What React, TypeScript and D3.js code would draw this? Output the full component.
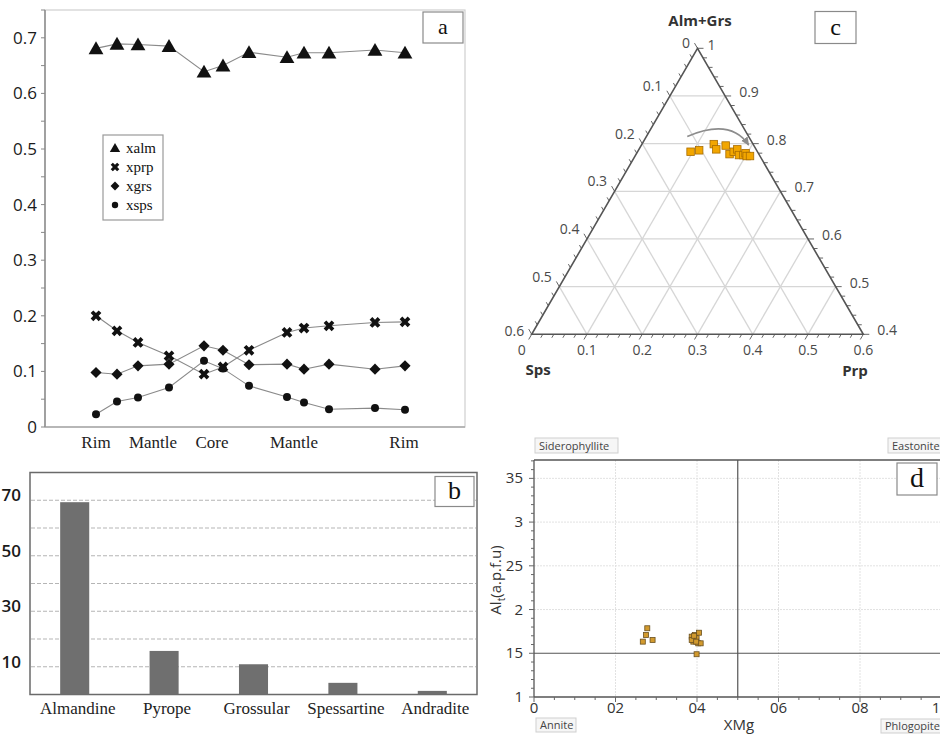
import React from 'react';
import * as d3 from 'd3';

// ---------- (a) garnet zoning profile ----------
const profilePos = [0, 21, 42, 73, 108, 127, 153, 191, 208, 233, 279, 309];
const xalm = [0.681, 0.689, 0.688, 0.685, 0.639, 0.65, 0.674, 0.665, 0.673, 0.673, 0.678, 0.673];
const xprp = [0.2, 0.173, 0.152, 0.128, 0.095, 0.108, 0.138, 0.17, 0.178, 0.182, 0.188, 0.189];
const xgrs = [0.098, 0.095, 0.11, 0.113, 0.146, 0.138, 0.112, 0.113, 0.104, 0.113, 0.104, 0.11];
const xsps = [0.023, 0.046, 0.053, 0.071, 0.119, 0.105, 0.074, 0.054, 0.044, 0.032, 0.034, 0.031];
const zoneLabels = ['Rim', 'Mantle', 'Core', 'Mantle', 'Rim'];
const zonePos = [0, 57, 116, 198, 308];
const profileTicks = [0, 0.1, 0.2, 0.3, 0.4, 0.5, 0.6, 0.7];
const profileTickLabels = ['0', '0.1', '0.2', '0.3', '0.4', '0.5', '0.6', '0.7'];
const seriesNames = ['xalm', 'xprp', 'xgrs', 'xsps'];

// ---------- (b) end-member proportions ----------
const minerals = ['Almandine', 'Pyrope', 'Grossular', 'Spessartine', 'Andradite'];
const mineralPct = [69.3, 15.7, 10.9, 4.2, 1.3];
const pctGrid = [10, 20, 30, 40, 50, 60, 70];
const pctLabels = [10, 30, 50, 70];

// ---------- (c) ternary Alm+Grs / Sps / Prp ----------
const garnetPrp = [0.096, 0.11, 0.13, 0.14, 0.153, 0.169, 0.174, 0.178, 0.187, 0.195, 0.197, 0.202, 0.208];
const garnetSps = [0.121, 0.104, 0.071, 0.072, 0.051, 0.053, 0.043, 0.034, 0.037, 0.029, 0.023, 0.024, 0.018];
const trendPrp = [0.074, 0.133, 0.194];
const trendSps = [0.111, 0.013, 0.009];
const ternTicks = [0, 0.1, 0.2, 0.3, 0.4, 0.5, 0.6];

// ---------- (d) biotite classification ----------
const biotiteXMg = [0.278, 0.275, 0.267, 0.291, 0.387, 0.395, 0.399, 0.391, 0.403, 0.409, 0.387, 0.398, 0.405, 0.393, 0.399];
const biotiteAl = [1.786, 1.709, 1.633, 1.652, 1.69, 1.709, 1.672, 1.633, 1.614, 1.614, 1.652, 1.633, 1.735, 1.7, 1.489];
const xmgTicks = [0, 0.2, 0.4, 0.6, 0.8, 1];
const xmgTickLabels = ['0', '02', '04', '06', '08', '1'];
const alTicks = [1, 1.5, 2, 2.5, 3, 3.5];
const alTickLabels = ['1', '15', '2', '25', '3', '35'];
const cornerNames = ['Siderophyllite', 'Eastonite', 'Annite', 'Phlogopite'];

const SANS = "'Open Sans', 'DejaVu Sans', sans-serif";
const SERIF = "'Liberation Serif', 'DejaVu Serif', serif";

function PanelTag({ x, y, w, h, text, size }: { x: number; y: number; w: number; h: number; text: string; size: number }) {
  return (
    <g>
      <rect x={x} y={y} width={w} height={h} fill="#fff" stroke="#8a8a8a" strokeWidth={1.2} />
      <text x={x + w / 2} y={y + h / 2 + size * 0.3} textAnchor="middle" fontFamily={SERIF} fontSize={size} fill="#111">
        {text}
      </text>
    </g>
  );
}

function ProfilePanel() {
  const x = d3.scaleLinear().domain([-51, 369]).range([45, 465]);
  const y = d3.scaleLinear().domain([0, 0.75]).range([427, 10]);
  const series = [xalm, xprp, xgrs, xsps];
  const triangle = d3.symbol().type(d3.symbolTriangle).size(95)()!;
  const cross = d3.symbol().type(d3.symbolCross).size(72)()!;
  const diamond = d3.symbol().type(d3.symbolSquare).size(62)()!;
  const circle = d3.symbol().type(d3.symbolCircle).size(50)()!;
  const marks = [
    { d: triangle, rot: 0, dy: 1.5 },
    { d: cross, rot: 45, dy: 0 },
    { d: diamond, rot: 45, dy: 0 },
    { d: circle, rot: 0, dy: 0 },
  ];
  const line = d3
    .line<number>()
    .x((_, i) => x(profilePos[i]))
    .y((v) => y(v));
  const minor = d3.range(0, 0.751, 0.05);
  return (
    <g>
      <rect x={45} y={10} width={420} height={417} fill="#fff" stroke="#cfcfcf" strokeWidth={1.2} />
      <line x1={45} x2={465} y1={427} y2={427} stroke="#a8a8a8" strokeWidth={1.5} />
      <line x1={45} x2={45} y1={10} y2={427} stroke="#9a9a9a" strokeWidth={1.8} />
      {minor.map((t) => (
        <line key={t} x1={41} x2={45} y1={y(t)} y2={y(t)} stroke="#888" strokeWidth={1} />
      ))}
      {profileTicks.map((t, i) => (
        <text key={t} x={37} y={y(t) + 6} textAnchor="end" fontFamily={SANS} fontSize={17} fill="#1a1a1a">
          {profileTickLabels[i]}
        </text>
      ))}
      {series.map((s, k) => (
        <path key={k} d={line(s)!} fill="none" stroke="#8a8a8a" strokeWidth={1.1} />
      ))}
      {series.map((s, k) =>
        s.map((v, i) => (
          <path
            key={`${k}-${i}`}
            d={marks[k].d}
            transform={`translate(${x(profilePos[i])},${y(v) + marks[k].dy}) rotate(${marks[k].rot})`}
            fill="#111"
          />
        ))
      )}
      {zoneLabels.map((z, i) => (
        <text key={i} x={x(zonePos[i])} y={448} textAnchor="middle" fontFamily={SERIF} fontSize={17} fill="#222">
          {z}
        </text>
      ))}
      <rect x={103} y={135} width={60} height={85} fill="#fff" stroke="#9a9a9a" strokeWidth={1.2} />
      {seriesNames.map((n, k) => {
        const ly = 148 + k * 19;
        const sc = k === 0 ? 0.7 : 0.8;
        return (
          <g key={n}>
            <path d={marks[k].d} transform={`translate(115,${ly + (k === 0 ? 1 : 0)}) rotate(${marks[k].rot}) scale(${sc})`} fill="#111" />
            <text x={126} y={ly + 5} fontFamily={SERIF} fontSize={15} fill="#111">
              {n}
            </text>
          </g>
        );
      })}
      <PanelTag x={423} y={12} w={40} h={31} text="a" size={22} />
    </g>
  );
}

function BarPanel() {
  const x = d3.scaleBand<string>().domain(minerals).range([30, 477]).paddingInner(0.675).paddingOuter(0.3375);
  const y = d3.scaleLinear().domain([0, 80]).range([694.5, 472.5]);
  return (
    <g>
      <rect x={30} y={472.5} width={447} height={222} fill="#fff" stroke="#6a6a6a" strokeWidth={1.5} />
      {pctGrid.map((g) => (
        <line key={g} x1={31} x2={476} y1={y(g)} y2={y(g)} stroke="#b5b5b5" strokeWidth={1.2} strokeDasharray="4,2" />
      ))}
      {minerals.map((m, i) => (
        <rect key={m} x={x(m)!} y={y(mineralPct[i])} width={x.bandwidth()} height={y(0) - y(mineralPct[i])} fill="#6f6f6f" />
      ))}
      {pctLabels.map((p) => (
        <text key={p} x={21} y={y(p) + 1} textAnchor="end" fontFamily={SANS} fontSize={17} fontWeight={600} fill="#1a1a1a">
          {p}
        </text>
      ))}
      {minerals.map((m) => (
        <text key={m} x={x(m)! + x.bandwidth() / 2 + 3} y={714} textAnchor="middle" fontFamily={SERIF} fontSize={17} fill="#222">
          {m}
        </text>
      ))}
      <PanelTag x={435} y={476.5} w={39} h={30} text="b" size={26} />
    </g>
  );
}

function TernaryPanel() {
  // Cartesian frame of the ternary: horizontal from Sps-apex (0) to Prp-apex (1), vertical by Alm+Grs.
  const tx = d3.scaleLinear().domain([0, 1]).range([531.7, 863.3]);
  const ty = d3.scaleLinear().domain([0.4, 1]).range([334.3, 48.3]);
  const proj = (prp: number, sps: number): [number, number] => {
    const alm = 1 - prp - sps;
    const a = (alm - 0.4) / 0.6;
    return [tx(prp / 0.6 + a / 2), ty(alm)];
  };
  const top = proj(0, 0);
  const left = proj(0, 0.6);
  const right = proj(0.6, 0);
  const seg = (p: [number, number], q: [number, number]) => `M${p[0]},${p[1]}L${q[0]},${q[1]}`;

  const gridLevels = [0.1, 0.2, 0.3, 0.4, 0.5];
  const grid: string[] = [];
  gridLevels.forEach((v) => {
    grid.push(seg(proj(0, v), proj(v, 0))); // Alm+Grs = 1 - v
    grid.push(seg(proj(0, v), proj(0.6 - v, v))); // Sps = v
    grid.push(seg(proj(v, 0.6 - v), proj(v, 0))); // Prp = v
  });

  const tickVals = d3.range(0, 31).map((i) => i * 0.02);
  const ticks: string[] = [];
  const c60 = 0.5;
  const s60 = Math.sqrt(3) / 2;
  tickVals.forEach((v) => {
    const major = Math.abs(v * 10 - Math.round(v * 10)) < 1e-6;
    const L = major ? 6 : 4;
    const pl = proj(0, v); // left edge, Sps = v
    ticks.push(seg(pl, [pl[0] - c60 * L, pl[1] - s60 * L]));
    const pb = proj(v, 0.6 - v); // bottom edge, Prp = v
    ticks.push(seg(pb, [pb[0] - c60 * L, pb[1] + s60 * L]));
    const pr = proj(v, 0); // right edge, Alm+Grs = 1 - v
    ticks.push(seg(pr, [pr[0] + L, pr[1]]));
  });

  const path = d3.path();
  const t0 = proj(trendPrp[0], trendSps[0]);
  const t1 = proj(trendPrp[1], trendSps[1]);
  const t2 = proj(trendPrp[2], trendSps[2]);
  path.moveTo(t0[0], t0[1]);
  path.quadraticCurveTo(t1[0], t1[1], t2[0], t2[1]);

  const fmt = d3.format('.1f');
  const tickFont = { fontFamily: SANS, fontSize: 14, fill: '#4a4a4a' };

  return (
    <g>
      <defs>
        <marker id="trendHead" viewBox="0 0 10 10" refX="8" refY="5" markerWidth="6" markerHeight="6" orient="auto">
          <path d="M0,1L9,5L0,9z" fill="#8c8c8c" />
        </marker>
      </defs>
      {grid.map((g, i) => (
        <path key={i} d={g} stroke="#d6d6d6" strokeWidth={1.3} fill="none" />
      ))}
      {ticks.map((t, i) => (
        <path key={i} d={t} stroke="#666" strokeWidth={1} fill="none" />
      ))}
      <path d={`M${top[0]},${top[1]}L${left[0]},${left[1]}L${right[0]},${right[1]}Z`} fill="none" stroke="#555" strokeWidth={1.6} />
      {ternTicks.map((v) => {
        const pl = proj(0, v);
        const dy = v === 0 ? -5 : v === 0.6 ? -3 : -10;
        return (
          <text key={`l${v}`} x={pl[0] - 7.5} y={pl[1] + dy + 5} textAnchor="end" {...tickFont}>
            {v === 0 ? '0' : fmt(v)}
          </text>
        );
      })}
      {ternTicks.map((v) => {
        const pb = proj(v, 0.6 - v);
        return (
          <text key={`b${v}`} x={pb[0] + (v === 0 ? -10 : 0)} y={pb[1] + 21} textAnchor="middle" {...tickFont}>
            {v === 0 ? '0' : fmt(v)}
          </text>
        );
      })}
      {ternTicks.map((v) => {
        const pr = proj(v, 0);
        const alm = 1 - v;
        return (
          <text key={`r${v}`} x={pr[0] + (v === 0 ? 10 : 14)} y={pr[1] + (v === 0 ? 2 : 1)} textAnchor="start" {...tickFont}>
            {alm === 1 ? '1' : fmt(alm)}
          </text>
        );
      })}
      <path d={path.toString()} fill="none" stroke="#8c8c8c" strokeWidth={1.6} markerEnd="url(#trendHead)" />
      {garnetPrp.map((p, i) => {
        const [px, py] = proj(p, garnetSps[i]);
        return <rect key={i} x={px - 3.75} y={py - 3.75} width={7.5} height={7.5} fill="#f2a600" stroke="#a86c00" strokeWidth={0.8} />;
      })}
      <text x={700} y={26} textAnchor="middle" fontFamily={SANS} fontSize={15} fontWeight={700} fill="#333">
        Alm+Grs
      </text>
      <text x={538} y={375} textAnchor="middle" fontFamily={SANS} fontSize={15} fontWeight={700} fill="#333">
        Sps
      </text>
      <text x={855} y={376} textAnchor="middle" fontFamily={SANS} fontSize={15} fontWeight={700} fill="#333">
        Prp
      </text>
      <PanelTag x={815} y={11.5} w={41} h={32} text="c" size={24} />
    </g>
  );
}

function BiotitePanel() {
  const x = d3.scaleLinear().domain([0, 1]).range([534, 941.5]);
  const y = d3.scaleLinear().domain([1, 3.71]).range([697, 460]);
  const xMinor = d3.range(0, 1.001, 0.05);
  const yMinor = d3.range(1, 3.71, 0.1);
  const tagBoxes = [
    { x: 535, y: 438, w: 83, h: 15 },
    { x: 888, y: 438, w: 60, h: 15 },
    { x: 536, y: 718, w: 40, h: 14 },
    { x: 881, y: 719, w: 66, h: 14 },
  ];
  return (
    <g>
      {[0.2, 0.4, 0.6, 0.8].map((v) => (
        <line key={v} x1={x(v)} x2={x(v)} y1={460} y2={697} stroke="#e2e2e2" strokeWidth={1} strokeDasharray="2,1" />
      ))}
      {[2, 2.5, 3, 3.5].map((v) => (
        <line key={v} x1={534} x2={940} y1={y(v)} y2={y(v)} stroke="#e2e2e2" strokeWidth={1} strokeDasharray="2,1" />
      ))}
      <line x1={534} x2={940} y1={460} y2={460} stroke="#555" strokeWidth={1.3} />
      <line x1={534} x2={940} y1={697} y2={697} stroke="#555" strokeWidth={1.3} />
      <line x1={534} x2={534} y1={460} y2={697} stroke="#555" strokeWidth={1.3} />
      <line x1={x(0.5)} x2={x(0.5)} y1={460} y2={697} stroke="#555" strokeWidth={1.2} />
      <line x1={534} x2={940} y1={y(1.5)} y2={y(1.5)} stroke="#555" strokeWidth={1.2} />
      {yMinor.map((v, i) => (
        <line key={i} x1={i % 5 === 0 ? 529 : 531} x2={534} y1={y(v)} y2={y(v)} stroke="#666" strokeWidth={1} />
      ))}
      {xMinor.map((v, i) => (
        <line key={i} x1={x(v)} x2={x(v)} y1={697} y2={i % 4 === 0 ? 702 : 700} stroke="#666" strokeWidth={1} />
      ))}
      {alTicks.map((v, i) => (
        <text key={v} x={523} y={y(v) + 5} textAnchor="end" fontFamily={SANS} fontSize={15} fill="#333">
          {alTickLabels[i]}
        </text>
      ))}
      {xmgTicks.map((v, i) => (
        <text key={v} x={Math.min(x(v), 936)} y={713} textAnchor="middle" fontFamily={SANS} fontSize={15} fill="#333">
          {xmgTickLabels[i]}
        </text>
      ))}
      <text x={739} y={730} textAnchor="middle" fontFamily={SANS} fontSize={15} fill="#333">
        XMg
      </text>
      <text transform="translate(501,580) rotate(-90)" textAnchor="middle" fontFamily={SANS} fontSize={15} fill="#333">
        Al<tspan fontSize={10} dy={4}>t</tspan>
        <tspan dy={-4}>(a.p.f.u)</tspan>
      </text>
      {biotiteXMg.map((v, i) => (
        <rect key={i} x={x(v) - 2.5} y={y(biotiteAl[i]) - 2.5} width={5} height={5} fill="#d29a2e" stroke="#6a5020" strokeWidth={0.8} />
      ))}
      {cornerNames.map((n, i) => {
        const b = tagBoxes[i];
        return (
          <g key={n}>
            <rect x={b.x} y={b.y} width={b.w} height={b.h} fill="#f6f6f6" stroke="#cfcfcf" strokeWidth={1} />
            <text x={b.x + 4} y={b.y + b.h - 3.5} fontFamily={SANS} fontSize={11} fill="#444">
              {n}
            </text>
          </g>
        );
      })}
      <PanelTag x={897} y={463} w={40} h={32} text="d" size={28} />
    </g>
  );
}

export default function App() {
  return (
    <svg
      width={940}
      height={734}
      viewBox="0 0 940 734"
      style={{ position: 'absolute', left: 0, top: 0, background: '#fff' }}
    >
      <rect width={940} height={734} fill="#fff" />
      <ProfilePanel />
      <BarPanel />
      <TernaryPanel />
      <BiotitePanel />
    </svg>
  );
}
